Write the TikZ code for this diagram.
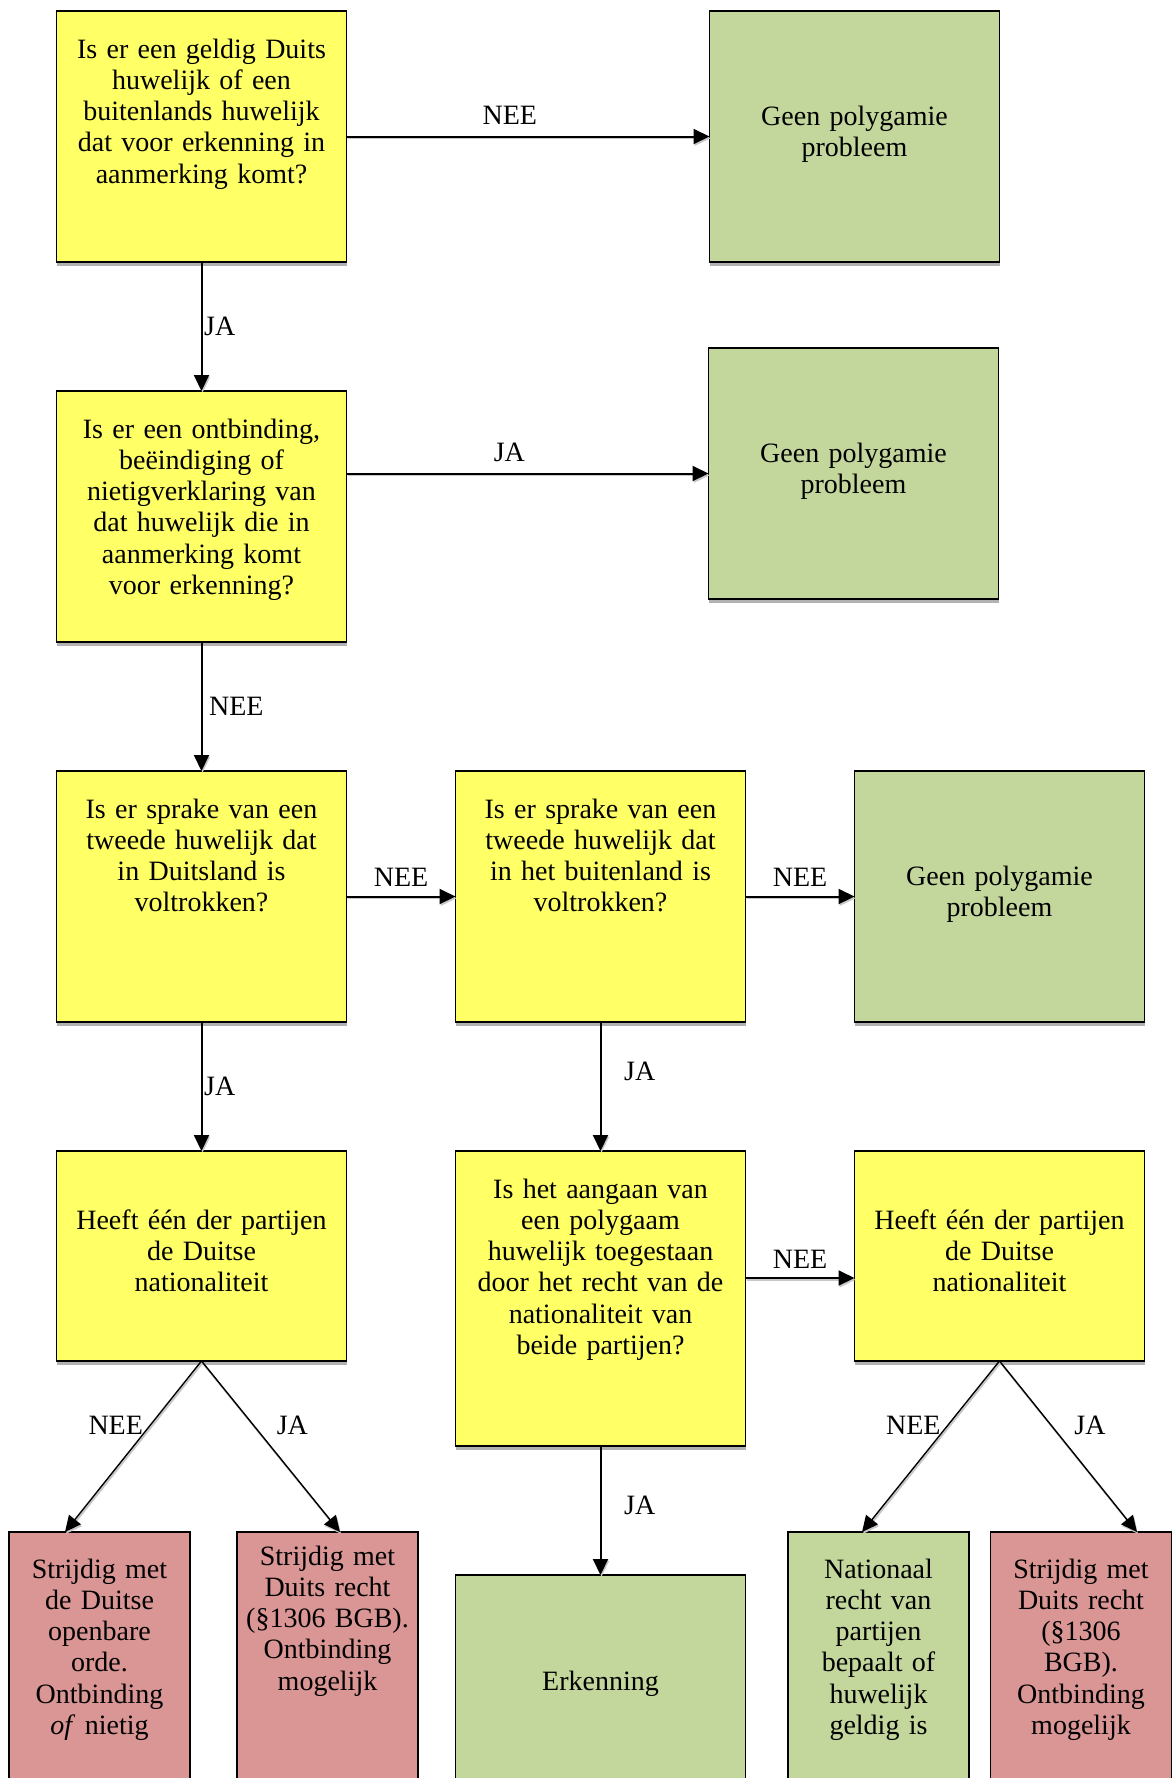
\documentclass[tikz,border=0pt]{standalone}
\usepackage{fontspec}
\setmainfont{Liberation Serif}
\usetikzlibrary{positioning,calc,arrows.meta,shadows}

\definecolor{vgeel}{RGB}{255,255,102}
\definecolor{vgroen}{RGB}{195,214,155}
\definecolor{vrood}{RGB}{217,150,148}

\begin{document}
\begin{tikzpicture}[x=0.5pt,y=-0.5pt,node distance=64.5pt and 54.5pt,
    font=\fontsize{14}{15.65}\selectfont,
    vak/.style={draw,line width=0.9pt,inner sep=0pt,outer sep=0pt,align=center,
      drop shadow={shadow xshift=0pt,shadow yshift=-1.8pt,fill=black!30,opacity=1}},
    breed/.style={vak,text width=145pt},
    smal/.style={vak,text width=90.5pt},
    vraag/.style={breed,fill=vgeel,text height=23.5pt,text depth=102pt},
    geen/.style={breed,fill=vgroen,text height=57pt,text depth=68.5pt},
    duits/.style={breed,fill=vgeel,text height=39pt,text depth=66pt},
    pijl/.style={-{Triangle[length=8pt,width=7.5pt]},line width=1pt},
    schuin/.style={-{Triangle[length=8pt,width=7.5pt]},line width=0.7pt},
    every edge/.append style={preaction={draw=black!22,line width=0.9pt,
      transform canvas={xshift=0.5pt,yshift=-0.9pt}}}]
  \useasboundingbox (0,0) rectangle (1173,1778);
  \clip (0,0) rectangle (1173,1778);

  \node[vraag] (v_1) at (201.5,136.5) {Is er een geldig Duits\\huwelijk of een\\buitenlands huwelijk\\dat voor erkenning in\\aanmerking komt?};
  \node[geen] (u_1) [right=181.5pt of v_1] {Geen polygamie\\probleem};
  \node[vraag] (v_2) [below=of v_1] {Is er een ontbinding,\\beëindiging of\\nietigverklaring van\\dat huwelijk die in\\aanmerking komt\\voor erkenning?};
  \node[geen] (u_2) at (853.5,473.5) {Geen polygamie\\probleem};
  \node[vraag] (v_3) [below=of v_2] {Is er sprake van een\\tweede huwelijk dat\\in Duitsland is\\voltrokken?};
  \node[vraag] (v_4) [right=of v_3] {Is er sprake van een\\tweede huwelijk dat\\in het buitenland is\\voltrokken?};
  \node[geen] (u_3) [right=of v_4] {Geen polygamie\\probleem};
  \node[duits] (v_5) [below=of v_3] {Heeft één der partijen\\de Duitse\\nationaliteit};
  \node[breed,fill=vgeel,text height=23.5pt,text depth=124pt] (v_6) [below=of v_4] {Is het aangaan van\\een polygaam\\huwelijk toegestaan\\door het recht van de\\nationaliteit van\\beide partijen?};
  \node[duits] (v_7) [right=of v_6.north east,anchor=north west] {Heeft één der partijen\\de Duitse\\nationaliteit};
  \coordinate (ij) at ($(v_7.north west)+(0,127)$);

  % uitkomsten onderaan
  \node[smal,fill=vrood,text height=23pt,text depth=127pt,anchor=north] (u_4) at (99.5,1532) {Strijdig met\\de Duitse\\openbare\\orde.\\Ontbinding\\\textit{of} nietig};
  \node[smal,fill=vrood,text height=16.5pt,text depth=133.5pt,anchor=north] (u_5) at (327.5,1532) {Strijdig met\\Duits recht\\(§1306 BGB).\\Ontbinding\\mogelijk};
  \node[breed,fill=vgroen,text height=57.5pt,text depth=92.5pt] (u_6) [below=of v_6] {Erkenning};
  \node[smal,fill=vgroen,text height=23pt,text depth=127pt,anchor=north] (u_7) at (878.5,1532) {Nationaal\\recht van\\partijen\\bepaalt of\\huwelijk\\geldig is};
  \node[smal,fill=vrood,text height=23pt,text depth=127pt,anchor=north] (u_8) at (1081,1532) {Strijdig met\\Duits recht\\(§1306\\BGB).\\Ontbinding\\mogelijk};

  \path[pijl]
  (v_1) edge node[pos=.45,above=2pt]{NEE} (u_1)
  edge node[right,xshift=-2.5pt]{JA} (v_2)
  (v_2.east |- u_2.west) edge node[pos=.45,above=2pt]{JA} (u_2)
  (v_2) edge node[right]{NEE} (v_3)
  (v_3) edge node[above=1pt]{NEE} (v_4)
  edge node[right,xshift=-2.5pt]{JA} (v_5)
  (v_4) edge node[above=1pt]{NEE} (u_3)
  edge node[pos=.38,right=8pt]{JA} (v_6)
  (v_6.east |- ij) edge node[above=1pt]{NEE} (ij)
  (v_6) edge node[pos=.46,right=8pt]{JA} (u_6);

  \path[schuin]
  (v_5.south) edge node[pos=.375,left]{NEE} ($(u_4.north)+(-34.5,0)$)
  edge node[pos=.375,right=8pt]{JA} ($(u_5.north)+(12.5,0)$)
  (v_7.south) edge node[pos=.375,left]{NEE} ($(u_7.north)+(-16.5,0)$)
  edge node[pos=.375,right=8pt]{JA} ($(u_8.north)+(56,0)$);
\end{tikzpicture}
\end{document}
